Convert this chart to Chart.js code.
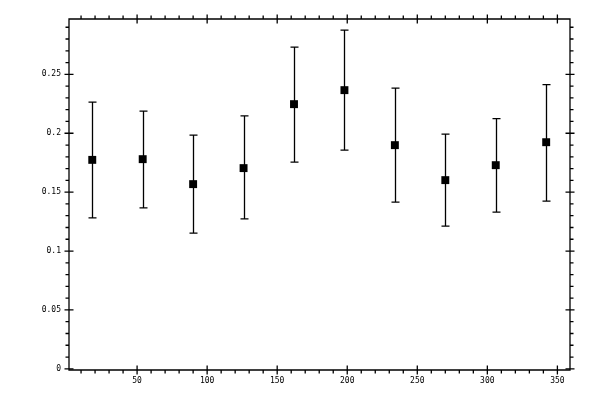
<!DOCTYPE html>
<html>
<head>
<meta charset="utf-8">
<script src="https://cdn.jsdelivr.net/npm/chart.js@4"></script>
<style>
  html, body { margin: 0; padding: 0; background: #ffffff; }
  #wrap { width: 600px; height: 400px; }
</style>
</head>
<body>
<div id="wrap"><canvas id="c" width="600" height="400"></canvas></div>
<script>
// ---- data ----
const xValues = [18, 54, 90, 126, 162, 198, 234, 270, 306, 342];
const yValues = [0.1774, 0.1780, 0.1568, 0.1704, 0.2247, 0.2366, 0.1899, 0.1602, 0.1729, 0.1924];
const yUpper  = [0.2264, 0.2188, 0.1984, 0.2148, 0.2731, 0.2875, 0.2383, 0.1992, 0.2125, 0.2413];
const yLower  = [0.1282, 0.1367, 0.1152, 0.1273, 0.1755, 0.1857, 0.1415, 0.1211, 0.1330, 0.1423];
const xMajorTicks = [50, 100, 150, 200, 250, 300, 350];
const yMajorTicks = [0, 0.05, 0.1, 0.15, 0.2, 0.25];
const xMinorStep = 10;
const yMinorStep = 0.01;
const xRange = [1.4, 359];
const yRange = [-0.001, 0.297];

const points = xValues.map((x, i) => ({ x: x, y: yValues[i] }));

const errorBarPlugin = {
  id: 'errorBars',
  beforeDatasetsDraw(chart) {
    const ctx = chart.ctx;
    const xs = chart.scales.x, ys = chart.scales.y;
    ctx.save();
    ctx.strokeStyle = '#000';
    ctx.lineWidth = 1.3;
    const cap = 4;
    xValues.forEach((xv, i) => {
      const px = Math.round(xs.getPixelForValue(xv)) + 0.5;
      const pt = ys.getPixelForValue(yUpper[i]);
      const pb = ys.getPixelForValue(yLower[i]);
      ctx.beginPath();
      ctx.moveTo(px, pt); ctx.lineTo(px, pb);
      ctx.moveTo(px - cap, pt); ctx.lineTo(px + cap, pt);
      ctx.moveTo(px - cap, pb); ctx.lineTo(px + cap, pb);
      ctx.stroke();
    });
    ctx.restore();
  }
};

const frameTicksPlugin = {
  id: 'frameTicks',
  afterDraw(chart) {
    const ctx = chart.ctx;
    const a = chart.chartArea;
    const xs = chart.scales.x, ys = chart.scales.y;
    ctx.save();
    ctx.strokeStyle = '#000';
    ctx.lineWidth = 1.3;
    ctx.beginPath();
    ctx.rect(a.left, a.top, a.right - a.left, a.bottom - a.top);
    ctx.stroke();
    ctx.beginPath();
    const minorLen = 3.5, majorLen = 4.5;
    // x ticks
    for (let v = Math.ceil(xRange[0] / xMinorStep) * xMinorStep; v <= xRange[1]; v += xMinorStep) {
      const p = xs.getPixelForValue(v);
      const major = xMajorTicks.includes(v);
      if (major) {
        ctx.moveTo(p, a.bottom + majorLen); ctx.lineTo(p, a.bottom - majorLen);
        ctx.moveTo(p, a.top - majorLen); ctx.lineTo(p, a.top + majorLen);
      } else {
        ctx.moveTo(p, a.bottom); ctx.lineTo(p, a.bottom + minorLen);
        ctx.moveTo(p, a.top); ctx.lineTo(p, a.top - minorLen);
      }
    }
    // y ticks
    const nMin = Math.ceil(yRange[0] / yMinorStep), nMax = Math.floor(yRange[1] / yMinorStep);
    for (let n = nMin; n <= nMax; n++) {
      const v = n * yMinorStep;
      const p = ys.getPixelForValue(v);
      const major = yMajorTicks.some(t => Math.abs(t - v) < 1e-9);
      if (major) {
        ctx.moveTo(a.left - majorLen, p); ctx.lineTo(a.left + majorLen, p);
        ctx.moveTo(a.right - majorLen, p); ctx.lineTo(a.right + majorLen, p);
      } else {
        ctx.moveTo(a.left, p); ctx.lineTo(a.left - minorLen, p);
        ctx.moveTo(a.right, p); ctx.lineTo(a.right + minorLen, p);
      }
    }
    ctx.stroke();
    ctx.restore();
  }
};

const tickFont = { family: '"DejaVu Sans Mono", monospace', size: 8 };

new Chart(document.getElementById('c'), {
  type: 'scatter',
  data: {
    datasets: [{
      data: points,
      pointStyle: 'rect',
      pointRadius: 5.6,
      pointHoverRadius: 5.6,
      backgroundColor: '#000',
      borderColor: '#000',
      borderWidth: 0
    }]
  },
  options: {
    responsive: false,
    animation: false,
    devicePixelRatio: 1,
    layout: { padding: { left: 0, right: 30, top: 19, bottom: 0 } },
    plugins: { legend: { display: false }, tooltip: { enabled: false } },
    scales: {
      x: {
        type: 'linear',
        min: xRange[0], max: xRange[1],
        grid: { display: false, drawTicks: false, tickLength: 0 },
        border: { display: false },
        afterBuildTicks: s => { s.ticks = xMajorTicks.map(v => ({ value: v })); },
        afterFit: s => { s.height = 30; },
        ticks: {
          color: '#000', font: tickFont, padding: 6, maxRotation: 0, autoSkip: false,
          callback: v => String(v)
        }
      },
      y: {
        type: 'linear',
        min: yRange[0], max: yRange[1],
        grid: { display: false, drawTicks: false, tickLength: 0 },
        border: { display: false },
        afterBuildTicks: s => { s.ticks = yMajorTicks.map(v => ({ value: v })); },
        afterFit: s => { s.width = 69; },
        ticks: {
          color: '#000', font: tickFont, padding: 8, autoSkip: false,
          callback: v => String(Number(v.toFixed(2)))
        }
      }
    }
  },
  plugins: [errorBarPlugin, frameTicksPlugin]
});
</script>
</body>
</html>
